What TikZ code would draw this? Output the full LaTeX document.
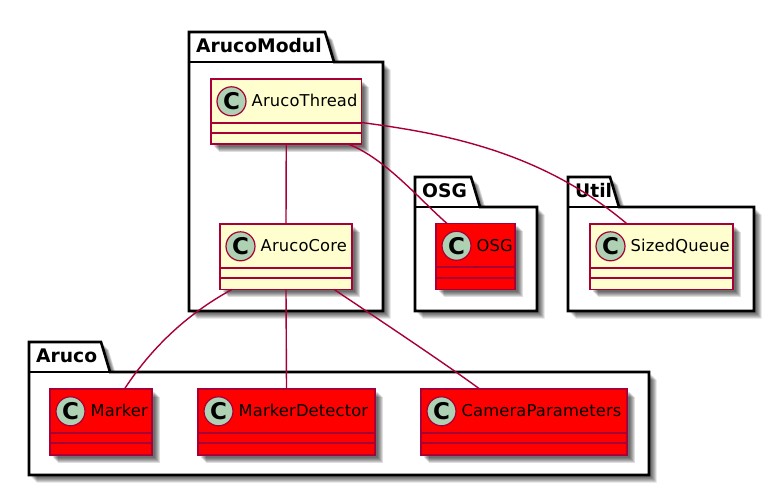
\documentclass[tikz,border=0pt]{standalone}
\usepackage{fontspec}
\setmainfont{DejaVu Sans}
\newfontfamily\classfont[LetterSpace=1.0]{DejaVu Sans}
\usetikzlibrary{calc}
\definecolor{umlline}{HTML}{A80036}
\definecolor{umlfill}{HTML}{FEFECE}
\definecolor{umlspot}{HTML}{ADD1B2}
\definecolor{umlred}{HTML}{FF0000}
\tikzset{
  softshadow/.style={fill=black,fill opacity=0.13,draw=none},
  pkgline/.style={draw=black,line width=2.6pt,fill=white,line join=miter},
  classbox/.style={draw=umlline,line width=1.9pt,inner sep=0pt,outer sep=0pt},
  spot/.style={circle,draw=umlline,line width=1.2pt,fill=umlspot,minimum size=29pt,inner sep=0pt,
    font=\fontsize{23}{23}\selectfont\bfseries},
  classname/.style={anchor=base west,inner sep=0pt,font=\classfont\fontsize{16.3}{16.3}\selectfont},
  pkgname/.style={anchor=base west,inner sep=0pt,font=\fontsize{18.7}{18.7}\selectfont\bfseries},
  divider/.style={draw=umlline,line width=1.9pt},
  assoc/.style={draw=umlline,line width=1.4pt},
}
% name, left, top, right, bottom, fill, text
\newcommand{\umlclass}[7]{%
  \foreach \d in {2.5,3.5,4.5,5.5,6.5,7.5}{%
    \fill[softshadow] (#2+\d,#3+\d) rectangle (#4+\d,#5+\d);}
  \node[classbox,fill=#6,minimum width=#4pt-#2pt,minimum height=#5pt-#3pt,anchor=north west] (#1) at (#2,#3) {};
  \draw[divider] (#2,#3+43.8) -- (#4,#3+43.8);
  \draw[divider] (#2,#3+54.3) -- (#4,#3+54.3);
  \node[spot] (#1spot) at (#2+20.5,#3+22.3) {C};
  \node[classname] (#1name) at (#2+40.5,#3+27.5) {#7};
}
% name, left, tabtop, right, bottom, tabright, text
\newcommand{\umlpackage}[7]{%
  \foreach \d in {2.5,3.5,4.5,5.5,6.5,7.5}{%
    \fill[softshadow] (#2+\d,#3+\d) -- (#6+\d,#3+\d) -- (#6+9+\d,#3+30+\d) -- (#4+\d,#3+30+\d) -- (#4+\d,#5+\d) -- (#2+\d,#5+\d) -- cycle;}
  \path[pkgline] (#2,#3) -- (#6,#3) -- (#6+9,#3+30) -- (#4,#3+30) -- (#4,#5) -- (#2,#5) -- cycle;
  \draw[draw=black,line width=2.6pt] (#2,#3+30) -- (#6+9,#3+30);
  \node[pkgname] (#1) at (#2+7,#3+20.5) {#7};
}
\begin{document}
\begin{tikzpicture}[x=1pt,y=-1pt]
  \useasboundingbox (0,0) rectangle (782,490);
  \umlpackage{pkgmodul}{189}{32}{383}{311}{325}{ArucoModul}
  \umlpackage{pkgosg}{415}{177}{537}{311}{471}{OSG}
  \umlpackage{pkgutil}{568}{177}{754}{311}{610}{Util}
  \umlpackage{pkgaruco}{29}{342}{649}{475}{101}{Aruco}

  \umlclass{thread}{211}{79}{361.5}{144}{umlfill}{ArucoThread}
  \umlclass{core}{220}{224}{352}{289.5}{umlfill}{ArucoCore}
  \umlclass{osg}{436}{223.5}{515}{289.5}{umlred}{OSG}
  \umlclass{queue}{590}{224}{733}{289.5}{umlfill}{SizedQueue}
  \umlclass{marker}{50}{389}{152}{455}{umlred}{Marker}
  \umlclass{detector}{198}{389}{375}{455}{umlred}{MarkerDetector}
  \umlclass{camera}{421}{389}{627}{455}{umlred}{CameraParameters}

  \draw[assoc] (thread.south) -- (core.north);
  \draw[assoc] ($(thread.south west)!0.91!(thread.south east)$) .. controls (385,158) and (420,200) .. ($(osg.north west)!0.14!(osg.north east)$);
  \draw[assoc] ($(thread.south east)+(0,-21.5)$) .. controls (440,133) and (540,150) .. ($(queue.north west)!0.26!(queue.north east)$);
  \draw[assoc] ($(core.south west)!0.09!(core.south east)$) .. controls (185,315) and (150,350) .. ($(marker.north west)!0.73!(marker.north east)$);
  \draw[assoc] (core.south) -- (detector.north);
  \draw[assoc] ($(core.south west)!0.865!(core.south east)$) .. controls (375,317) and (440,360) .. ($(camera.north west)!0.285!(camera.north east)$);
\end{tikzpicture}
\end{document}
